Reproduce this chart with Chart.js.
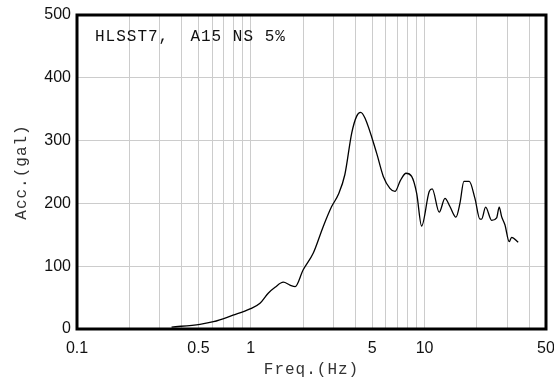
<!DOCTYPE html>
<html>
<head>
<meta charset="utf-8">
<script src="https://cdn.jsdelivr.net/npm/chart.js@4.4.1/dist/chart.umd.min.js"></script>
<style>
  html, body { margin: 0; padding: 0; background: #ffffff; }
  #wrap { width: 554px; height: 381px; }
</style>
</head>
<body>
<div id="wrap"><canvas id="c" width="554" height="381"></canvas></div>
<script>
// Response spectrum: frequency (Hz) and spectral acceleration (gal)
const freq = [0.35, 0.51, 0.61, 0.79, 0.99, 1.13, 1.26, 1.38, 1.54, 1.68, 1.80, 2.00,
  2.29, 2.61, 2.92, 3.19, 3.48, 3.81, 4.07, 4.29, 4.54, 5.30, 5.79, 6.32, 6.76, 7.22,
  7.38, 7.82, 8.43, 9.01, 9.62, 10.64, 11.07, 12.15, 13.11, 14.0, 15.16, 15.98, 16.85,
  18.08, 19.5, 20.84, 21.31, 22.47, 24.33, 25.99, 26.9, 27.77, 29.01, 30.71, 31.71, 34.6];
const acc = [3, 7.5, 11.6, 22, 32, 41, 57, 66.5, 74.5, 70, 67.5, 94,
  121, 163, 195, 214, 246, 312, 339, 345, 336, 280, 243, 224, 219, 235,
  240, 248, 243, 216, 164, 219, 223, 186, 208, 195, 178, 200, 235,
  235, 208, 175, 175, 194, 173, 177, 194, 179, 166, 139, 146, 138];

// Axis ticks
const xGridTicks = [0.1, 0.2, 0.3, 0.4, 0.5, 0.6, 0.7, 0.8, 0.9,
  1, 2, 3, 4, 5, 6, 7, 8, 9, 10, 20, 30, 40, 50];
const xLabelTicks = [0.1, 0.5, 1, 5, 10, 50];
const yTicks = [0, 100, 200, 300, 400, 500];

const caption = 'HLSST7,  A15 NS 5%';
const xTitle = 'Freq.(Hz)';
const yTitle = 'Acc.(gal)';

const points = freq.map((f, i) => ({ x: f, y: acc[i] }));

const monoFont = '16px "Liberation Mono", monospace';

// Thick frame around the plot area, the caption and the spaced axis titles
const framePlugin = {
  id: 'frame',
  afterDraw(chart) {
    const { ctx, chartArea: a } = chart;
    ctx.save();
    ctx.strokeStyle = '#000000';
    ctx.lineWidth = 3;
    ctx.strokeRect(a.left, a.top, a.right - a.left, a.bottom - a.top);

    ctx.font = monoFont;
    ctx.letterSpacing = '1px';
    ctx.textBaseline = 'middle';

    ctx.fillStyle = '#111111';
    ctx.textAlign = 'left';
    ctx.fillText(caption, a.left + 18, a.top + 22);

    ctx.fillStyle = '#333333';
    ctx.textAlign = 'center';
    ctx.fillText(xTitle, (a.left + a.right) / 2, chart.height - 11);

    ctx.translate(22, (a.top + a.bottom) / 2);
    ctx.rotate(-Math.PI / 2);
    ctx.fillText(yTitle, 0, 0);
    ctx.restore();
  }
};

new Chart(document.getElementById('c'), {
  type: 'line',
  data: {
    datasets: [{
      data: points,
      borderColor: '#000000',
      borderWidth: 1.3,
      pointRadius: 0,
      fill: false,
      cubicInterpolationMode: 'monotone'
    }]
  },
  options: {
    responsive: false,
    animation: false,
    events: [],
    layout: { padding: { left: 0, right: 8, top: 15, bottom: 0 } },
    plugins: { legend: { display: false }, tooltip: { enabled: false } },
    scales: {
      x: {
        type: 'logarithmic',
        min: 0.1,
        max: 50,
        afterBuildTicks(scale) { scale.ticks = xGridTicks.map(v => ({ value: v })); },
        afterFit(scale) {
          scale.height = 52;
          scale.paddingLeft = 0;
          scale.paddingRight = 0;
        },
        grid: { color: '#cccccc', lineWidth: 1, drawTicks: false },
        border: { display: false },
        ticks: {
          autoSkip: false,
          maxRotation: 0,
          padding: 10,
          color: '#111111',
          font: { family: '"Liberation Sans", Arial, sans-serif', size: 16 },
          callback(v) { return xLabelTicks.includes(v) ? String(v) : ''; }
        }
      },
      y: {
        min: 0,
        max: 500,
        afterBuildTicks(scale) { scale.ticks = yTicks.map(v => ({ value: v })); },
        afterFit(scale) {
          scale.width = 77;
          scale.paddingTop = 0;
          scale.paddingBottom = 0;
        },
        grid: { color: '#cccccc', lineWidth: 1, drawTicks: false },
        border: { display: false },
        ticks: {
          padding: 6,
          color: '#111111',
          font: { family: '"Liberation Sans", Arial, sans-serif', size: 16 }
        }
      }
    }
  },
  plugins: [framePlugin]
});
</script>
</body>
</html>
